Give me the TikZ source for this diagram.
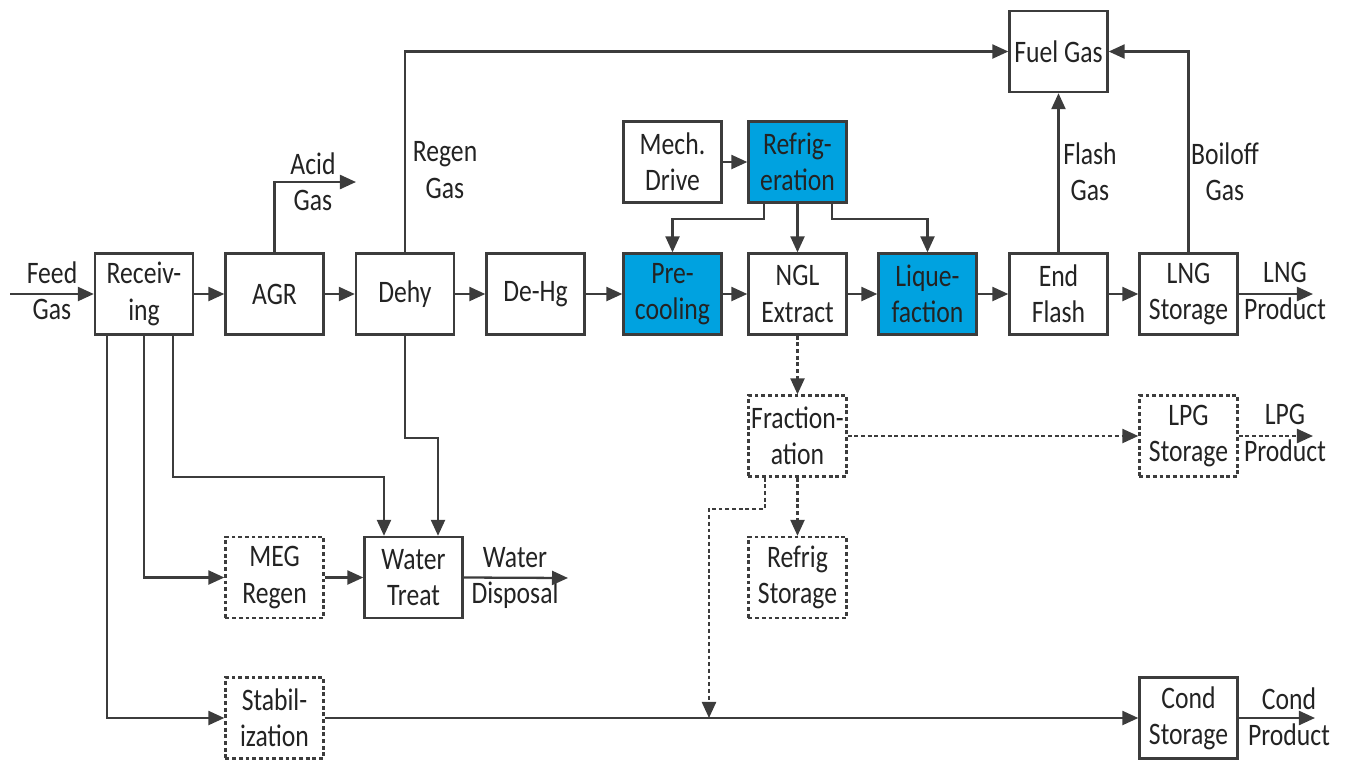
\documentclass[tikz,border=0pt]{standalone}
\usepackage{fontspec}
\setmainfont{Carlito}[FakeStretch=0.82]
\usetikzlibrary{arrows.meta}
\definecolor{lnc}{RGB}{60,60,60}
\definecolor{txc}{RGB}{35,35,35}
\definecolor{bluef}{RGB}{0,162,224}
\tikzset{
  unit/.style={rectangle, draw=lnc, line width=0.65pt, minimum width=0.98cm, minimum height=0.81cm, inner sep=0pt, align=center, text=txc, font=\fontsize{8.9pt}{10.3pt}\selectfont},
  dashbox/.style={unit, dash pattern=on 1.1pt off 0.8pt},
  bluebox/.style={unit, fill=bluef},
  lbl/.style={align=center, text=txc, inner sep=0pt, font=\fontsize{8.9pt}{10.3pt}\selectfont},
  arr/.style={draw=lnc, line width=0.65pt, -{Triangle[length=1.6mm,width=1.4mm]}},
  darr/.style={arr, dash pattern=on 1.1pt off 0.8pt},
}
\begin{document}
\begin{tikzpicture}[x=0.01cm,y=-0.01cm]
\useasboundingbox (0,0) rectangle (1347,760);
% main row
\node[unit] (rec) at (144,294) {Receiv-\\ing};
\node[unit] (agr) at (274.5,294) {AGR};
\node[unit] (dehy) at (405,294) {Dehy};
\node[unit] (dehg) at (535.5,294) {De-Hg};
\node[bluebox] (pre) at (672.5,294) {Pre-\\cooling};
\node[unit] (ngl) at (797.5,294) {NGL\\Extract};
\node[bluebox] (liq) at (927.5,294) {Lique-\\faction};
\node[unit] (endf) at (1058.5,294) {End\\Flash};
\node[unit] (lng) at (1188.5,294) {LNG\\Storage};
% upper
\node[unit] (mech) at (672.5,162) {Mech.\\Drive};
\node[bluebox] (refr) at (797.5,162) {Refrig-\\eration};
\node[unit] (fuel) at (1058.5,51.5) {Fuel Gas};
% lower
\node[dashbox] (frac) at (797.5,436) {Fraction-\\ation};
\node[dashbox] (lpg) at (1188.5,436) {LPG\\Storage};
\node[dashbox] (rst) at (797.5,577.5) {Refrig\\Storage};
\node[dashbox] (meg) at (274.5,577.5) {MEG\\Regen};
\node[unit] (wat) at (413.5,577.5) {Water\\Treat};
\node[dashbox] (stab) at (274.5,718) {Stabil-\\ization};
\node[unit] (cond) at (1188.5,718) {Cond\\Storage};
% labels
\node[lbl] (lfeed) at (52,291) {Feed\\Gas};
\node[lbl] (lacid) at (313,182) {Acid\\Gas};
\node[lbl] (lregen) at (445,170) {Regen\\Gas};
\node[lbl] (lflash) at (1090,172) {Flash\\Gas};
\node[lbl] (lboil) at (1225,172) {Boiloff\\Gas};
\node[lbl] (llng) at (1285,291) {LNG\\Product};
\node[lbl] (llpg) at (1285,433) {LPG\\Product};
\node[lbl] (lwat) at (515,578) {Water\\Disposal};
\node[lbl] (lcond) at (1289,717) {Cond\\Product};
% free ends
\coordinate (feedin) at (10,294);
\coordinate (acidout) at (356,182);
\coordinate (lngout) at (1313,294);
\coordinate (lpgout) at (1313,436);
\coordinate (watout) at (568,578);
\coordinate (condout) at (1315,718);
\coordinate (fracjoin) at (709,718);
% main flow
\draw[arr] (feedin) -- (rec.west);
\draw[arr] (rec) -- (agr);
\draw[arr] (agr) -- (dehy);
\draw[arr] (dehy) -- (dehg);
\draw[arr] (dehg) -- (pre);
\draw[arr] (pre) -- (ngl);
\draw[arr] (ngl) -- (liq);
\draw[arr] (liq) -- (endf);
\draw[arr] (endf) -- (lng);
\draw[arr] (lng.east) -- (lngout);
% gas lines
\draw[arr] (agr.north) |- (acidout);
\draw[arr] (dehy.north) |- (fuel.west);
\draw[arr] (endf.north) -- (fuel.south);
\draw[arr] (lng.north) |- (fuel.east);
% refrigeration
\draw[arr] (mech) -- (refr);
\draw[arr] ([xshift=-0.335cm]refr.south) -- ++(0,15) -| (pre.north);
\draw[arr] (refr.south) -- (ngl.north);
\draw[arr] ([xshift=0.345cm]refr.south) -- ++(0,15) -| (liq.north);
% NGL / fractionation
\draw[darr] (ngl.south) -- (frac.north);
\draw[darr] (frac.east) -- (lpg.west);
\draw[darr] (lpg.east) -- (lpgout);
\draw[darr] (frac.south) -- (rst.north);
\draw[darr] ([xshift=-0.325cm]frac.south) -- ++(0,31) -| (fracjoin);
% receiving outlets
\draw[arr] ([xshift=-0.37cm]rec.south) |- (stab.west);
\draw[arr] (rec.south) |- (meg.west);
\draw[arr] ([xshift=0.29cm]rec.south) -- ++(0,141) -| ([xshift=-0.295cm]wat.north);
\draw[arr] (dehy.south) -- ++(0,102) -| ([xshift=0.245cm]wat.north);
\draw[arr] (meg) -- (wat);
\draw[arr] (wat.east) -- (watout);
% condensate
\draw[arr] (stab) -- (cond);
\draw[arr] (cond.east) -- (condout);
\end{tikzpicture}
\end{document}
